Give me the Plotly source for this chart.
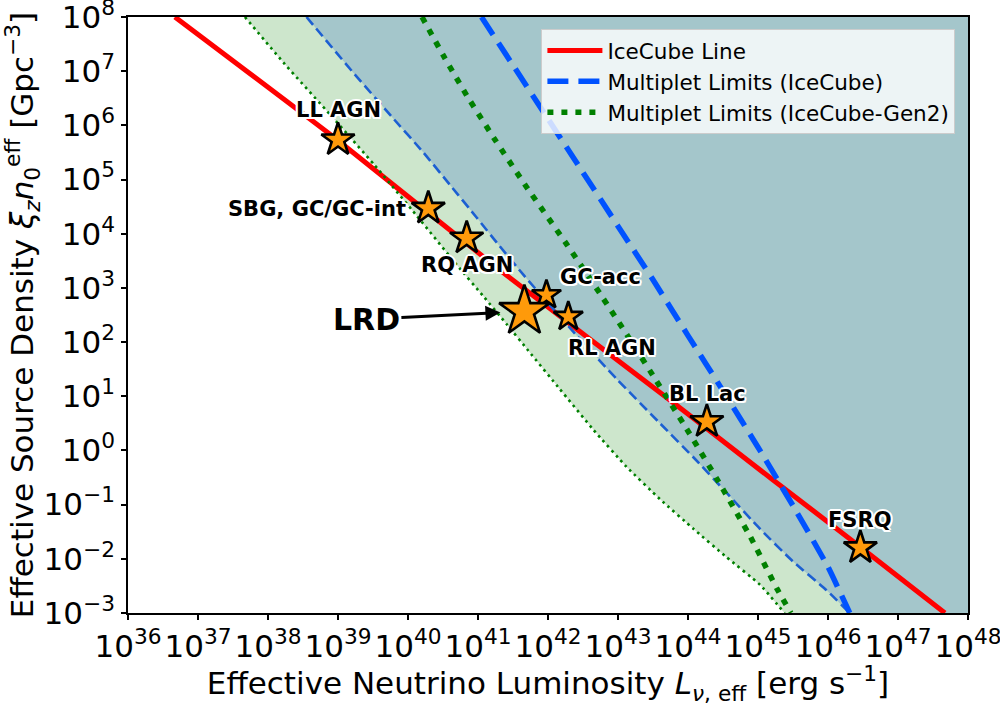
import numpy as np
import plotly.graph_objects as go

# ---------------- data (log10 values) ----------------
x_decades = list(range(36, 49))          # x ticks: 10^36 ... 10^48
y_decades = list(range(-3, 9))           # y ticks: 10^-3 ... 10^8

# IceCube line
icecube_logL = [36.67, 39.00, 41.40, 43.74, 45.22, 46.36, 47.67]
icecube_logn = [8.00, 5.72, 3.24, 0.93, -0.55, -1.68, -3.00]

# Multiplet limits, IceCube-Gen2 (thin dotted, boundary of green band)
gen2_thin_logL = [37.67, 38.24, 38.90, 39.52, 40.05, 40.70, 41.08, 41.41, 41.72, 42.17,
                  42.65, 43.12, 43.60, 44.08, 44.55, 45.03, 45.38]
gen2_thin_logn = [8.00, 7.13, 6.18, 5.27, 4.45, 3.42, 2.84, 2.33, 1.84, 1.13,
                  0.38, -0.30, -0.90, -1.45, -1.97, -2.48, -3.00]

# Multiplet limits, IceCube (thin dashed, boundary of blue region)
ic_thin_logL = [38.55, 39.20, 39.76, 40.22, 40.60, 40.98, 41.31, 41.65, 41.98, 42.41,
                42.98, 43.60, 44.08, 44.55, 45.03, 45.50, 45.98, 46.31]
ic_thin_logn = [8.00, 7.00, 6.17, 5.50, 4.90, 4.30, 3.77, 3.24, 2.75, 2.12,
                1.32, 0.50, -0.13, -0.78, -1.45, -2.05, -2.58, -3.00]

# Multiplet limits, IceCube-Gen2 (thick dotted)
gen2_thick_logL = [40.20, 40.50, 40.84, 41.25, 41.70, 42.27, 42.74, 43.22, 43.55, 43.98,
                   44.41, 44.89, 45.27, 45.47]
gen2_thick_logn = [8.00, 7.30, 6.55, 5.72, 4.85, 3.80, 2.90, 1.95, 1.28, 0.40,
                   -0.52, -1.59, -2.55, -3.00]

# Multiplet limits, IceCube (thick dashed)
ic_thick_logL = [41.05, 41.50, 42.00, 42.50, 43.00, 43.50, 44.00, 44.50, 45.00, 45.50,
                 46.00, 46.31]
ic_thick_logn = [8.00, 7.11, 6.12, 5.13, 4.14, 3.15, 2.12, 1.10, 0.06, -1.02,
                 -2.15, -3.00]

# source classes (drawing order: GC-acc behind LRD)
source_names = ["LL AGN", "SBG, GC/GC-int", "RQ AGN", "GC-acc", "LRD", "RL AGN", "BL Lac", "FSRQ"]
source_L = [1.0e39, 1.95e40, 6.9e40, 9.5e41, 4.6e41, 1.95e42, 1.86e44, 2.9e46]
source_n = [5.4e5, 2.95e4, 8.3e3, 7.4e2, 3.7e2, 2.95e2, 3.4, 1.6e-2]

# ---------------- styles ----------------
FONT = "DejaVu Sans"
C_FILL_GREEN = "#cde6cc"
C_FILL_TEAL = "#a4c6cb"
C_RED = "#ff0000"
C_BLUE_THICK = "#0052ff"
C_BLUE_THIN = "#1c5fd2"
C_GREEN = "#008000"
C_STAR = "#ff9a0a"

star_size = {"LRD": 38, "GC-acc": 22, "RL AGN": 22}
DEFAULT_STAR = 25
# label offsets in pixels (dx right, dy down) and anchor
label_pos = {
    "LL AGN": (0, -30, "center"),
    "SBG, GC/GC-int": (-20, 1, "right"),
    "RQ AGN": (0, 27, "center"),
    "GC-acc": (54, -18, "center"),
    "RL AGN": (44, 31, "center"),
    "BL Lac": (1, -28, "center"),
    "FSRQ": (0, -28, "center"),
}
OUTLINE = ("2px 0 0 #fff, -2px 0 0 #fff, 0 2px 0 #fff, 0 -2px 0 #fff, "
           "1.5px 1.5px 0 #fff, -1.5px -1.5px 0 #fff, 1.5px -1.5px 0 #fff, -1.5px 1.5px 0 #fff")

xmin, xmax = x_decades[0], x_decades[-1]
ymin, ymax = y_decades[0], y_decades[-1]
EPS = 1e-6


def lin(a):
    return [float("1e%r" % v) if isinstance(v, int) else 10.0 ** v for v in a]


SMOOTH = dict(shape="spline", smoothing=0.4)

fig = go.Figure()

# green band: right of the thin Gen2 limit
fig.add_trace(go.Scatter(
    x=lin(gen2_thin_logL + [xmax, xmax]),
    y=lin(gen2_thin_logn + [ymin, ymax]),
    fill="toself", fillcolor=C_FILL_GREEN, mode="none",
    showlegend=False, hoverinfo="skip"))
# blue region: right of the thin IceCube limit
fig.add_trace(go.Scatter(
    x=lin(ic_thin_logL + [xmax, xmax]),
    y=lin(ic_thin_logn + [ymin, ymax]),
    fill="toself", fillcolor=C_FILL_TEAL, mode="none",
    showlegend=False, hoverinfo="skip"))

# IceCube line
fig.add_trace(go.Scatter(
    x=lin(icecube_logL), y=lin(icecube_logn), mode="lines",
    line=dict(color=C_RED, width=5, **SMOOTH), name="IceCube Line"))

# thin limits
fig.add_trace(go.Scatter(
    x=lin(gen2_thin_logL), y=lin(gen2_thin_logn), mode="lines",
    line=dict(color=C_GREEN, width=2.6, dash="2.6px,4px", **SMOOTH), showlegend=False))
fig.add_trace(go.Scatter(
    x=lin(ic_thin_logL), y=lin(ic_thin_logn), mode="lines",
    line=dict(color=C_BLUE_THIN, width=2.6, dash="10px,5px", **SMOOTH), showlegend=False))

# thick limits
fig.add_trace(go.Scatter(
    x=lin(ic_thick_logL), y=lin(ic_thick_logn), mode="lines",
    line=dict(color=C_BLUE_THICK, width=5.5, dash="21px,10px", **SMOOTH),
    name="Multiplet Limits (IceCube)"))
fig.add_trace(go.Scatter(
    x=lin(gen2_thick_logL), y=lin(gen2_thick_logn), mode="lines",
    line=dict(color=C_GREEN, width=5.5, dash="6px,8px", **SMOOTH),
    name="Multiplet Limits (IceCube-Gen2)"))

# source stars
for name, L, n in zip(source_names, source_L, source_n):
    fig.add_trace(go.Scatter(
        x=[L], y=[n], mode="markers", showlegend=False,
        marker=dict(symbol="star", size=star_size.get(name, DEFAULT_STAR),
                    color=C_STAR, line=dict(color="black", width=2.6))))

annotations = []
for name, L, n in zip(source_names, source_L, source_n):
    if name == "LRD":
        annotations.append(dict(
            x=np.log10(L), y=np.log10(n), xref="x", yref="y",
            text="<b>LRD</b>", showarrow=True, ax=-158, ay=8,
            arrowhead=2, arrowsize=1, arrowwidth=3, arrowcolor="black",
            standoff=24, font=dict(family=FONT, size=30, color="black")))
        continue
    dx, dy, anchor = label_pos[name]
    annotations.append(dict(
        x=np.log10(L), y=np.log10(n), xref="x", yref="y",
        text="<b>%s</b>" % name, showarrow=False,
        xanchor=anchor, yanchor="middle", xshift=dx, yshift=-dy,
        font=dict(family=FONT, size=21, color="black", shadow=OUTLINE)))


def sup_label(e):
    s = str(e).replace("-", "\u2212")
    return "10<sup>%s</sup>" % s


axis_common = dict(
    type="log", showgrid=False, zeroline=False,
    showline=True, linecolor="black", linewidth=1.5, mirror=True,
    ticks="outside", ticklen=5, tickwidth=1.5, tickcolor="black",
    ticklabeloverflow="allow", tickangle=0, automargin=False,
    tickfont=dict(family=FONT, size=31, color="black"),
)

fig.update_layout(
    width=1000, height=706,
    margin=dict(l=128, r=32, t=17, b=93),
    paper_bgcolor="white", plot_bgcolor="white",
    font=dict(family=FONT, color="black"),
    annotations=annotations,
    legend=dict(x=0.985, y=0.98, xanchor="right", yanchor="top",
                bgcolor="rgba(255,255,255,0.8)", bordercolor="#cccccc", borderwidth=1,
                font=dict(family=FONT, size=21.5, color="black"),
                itemwidth=55),
    xaxis=dict(axis_common, range=[xmin - EPS, xmax + EPS],
               tickvals=lin(x_decades), ticktext=[sup_label(e) for e in x_decades],
               title=dict(text="Effective Neutrino Luminosity <i>L</i><sub><i>\u03bd</i>, eff</sub> [erg s<sup>\u22121</sup>]",
                          font=dict(family=FONT, size=31, color="black"), standoff=8)),
    yaxis=dict(axis_common, range=[ymin - EPS, ymax + EPS],
               tickvals=lin(y_decades), ticktext=[sup_label(e) for e in y_decades],
               title=dict(text="Effective Source Density <i>\u03be<sub>z</sub>n</i><sub>0</sub><sup>eff</sup> [Gpc<sup>\u22123</sup>]",
                          font=dict(family=FONT, size=31, color="black"), standoff=6)),
)

fig.write_html("out.html")
